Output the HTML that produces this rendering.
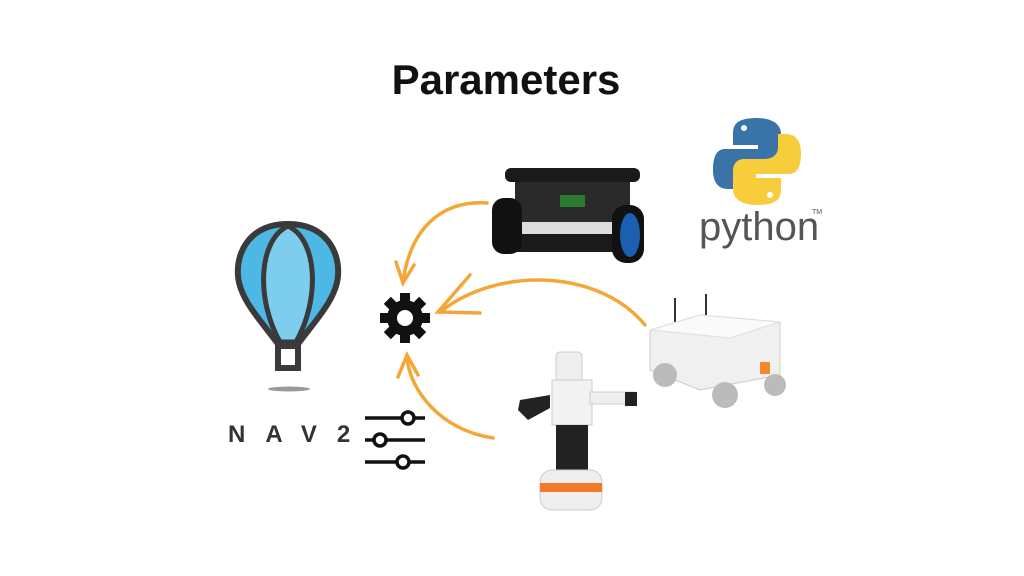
<!DOCTYPE html>
<html><head><style>
html,body{margin:0;padding:0;background:#fff;width:1024px;height:576px;overflow:hidden}
</style></head><body>
<svg width="1024" height="576" viewBox="0 0 1024 576" xmlns="http://www.w3.org/2000/svg">
<rect width="1024" height="576" fill="#fff"/>
<text x="506" y="94" text-anchor="middle" font-family="Liberation Sans, sans-serif" font-weight="bold" font-size="42" fill="#111">Parameters</text>

<!-- balloon -->
<path d="M288 224 C250 224 236 252 238 276 C240 300 262 322 278 344 L298 344 C314 322 336 300 338 276 C340 252 326 224 288 224 Z" fill="#4db8e6" stroke="#3a3a3a" stroke-width="6"/>
<path d="M288 226 C258 240 256 300 280 342 L296 342 C320 300 318 240 288 226 Z" fill="#7dcdee" stroke="#3a3a3a" stroke-width="5"/>
<rect x="278" y="346" width="20" height="22" fill="#fff" stroke="#3a3a3a" stroke-width="6"/>
<ellipse cx="289" cy="389" rx="21" ry="2.5" fill="#999"/>
<text x="228" y="442" font-family="Liberation Sans, sans-serif" font-weight="bold" font-size="24" fill="#333" letter-spacing="20">NAV2</text>

<!-- sliders -->
<g stroke="#111" stroke-width="3.5" fill="#fff">
<line x1="365" y1="418" x2="425" y2="418"/><line x1="365" y1="440" x2="425" y2="440"/><line x1="365" y1="462" x2="425" y2="462"/>
<circle cx="408" cy="418" r="6"/><circle cx="380" cy="440" r="6"/><circle cx="403" cy="462" r="6"/>
</g>

<!-- gear -->
<g transform="translate(405,318)" fill="#111">
<circle r="18"/>
<g><rect x="-5" y="-25" width="10" height="50"/><rect x="-5" y="-25" width="10" height="50" transform="rotate(45)"/><rect x="-5" y="-25" width="10" height="50" transform="rotate(90)"/><rect x="-5" y="-25" width="10" height="50" transform="rotate(135)"/></g>
<circle r="8" fill="#fff"/>
</g>

<!-- arrows -->
<g fill="none" stroke="#f5a638" stroke-width="3.5" stroke-linecap="round">
<path d="M487 203 C440 200 410 230 403 282"/>
<path d="M396 262 L403 283 L414 265"/>
<path d="M645 325 C600 270 500 265 440 312"/>
<path d="M470 275 L438 312 L480 313"/>
<path d="M493 438 C440 430 410 390 407 358"/>
<path d="M398 377 L407 355 L418 375"/>
</g>

<!-- turtlebot -->
<g>
<rect x="505" y="168" width="135" height="14" rx="6" fill="#1a1a1a"/>
<rect x="515" y="182" width="115" height="40" fill="#2a2a2a"/>
<rect x="515" y="222" width="115" height="12" fill="#ddd"/>
<rect x="505" y="234" width="135" height="18" rx="6" fill="#1a1a1a"/>
<rect x="492" y="198" width="30" height="56" rx="12" fill="#111"/>
<rect x="612" y="205" width="32" height="58" rx="14" fill="#111"/>
<ellipse cx="630" cy="235" rx="10" ry="22" fill="#1a5fb0"/>
<rect x="560" y="195" width="25" height="12" fill="#2a7a30"/>
</g>

<!-- python logo -->
<path d="M757 118 C735 118 733 126 733 134 L733 145 L758 145 L758 149 L725 149 C715 149 713 160 713 170 C713 182 718 189 728 189 L736 189 L736 176 C736 168 742 164 750 164 L770 164 C777 164 781 159 781 152 L781 134 C781 124 772 118 757 118 Z" fill="#3a73a8"/>
<path d="M757 205 C779 205 781 197 781 189 L781 178 L756 178 L756 174 L789 174 C799 174 801 163 801 153 C801 141 796 134 786 134 L778 134 L778 147 C778 155 772 159 764 159 L744 159 C737 159 733 164 733 171 L733 189 C733 199 742 205 757 205 Z" fill="#f7cd3c"/>
<circle cx="744" cy="128" r="3" fill="#fff"/><circle cx="770" cy="195" r="3" fill="#fff"/>
<text x="699" y="240" font-family="Liberation Sans, sans-serif" font-size="40" fill="#555">python</text>
<text x="812" y="214" font-family="Liberation Sans, sans-serif" font-size="7" fill="#555">TM</text>

<!-- white mobile robot -->
<g>
<line x1="675" y1="298" x2="675" y2="325" stroke="#333" stroke-width="2"/>
<line x1="706" y1="294" x2="706" y2="318" stroke="#333" stroke-width="2"/>
<path d="M650 330 L700 315 L780 322 L780 375 L700 390 L650 370 Z" fill="#f0f0f0" stroke="#ccc"/>
<path d="M650 330 L700 315 L780 322 L730 338 Z" fill="#fafafa" stroke="#ddd"/>
<rect x="760" y="362" width="10" height="12" fill="#f08a2a"/>
<circle cx="665" cy="375" r="12" fill="#bbb"/><circle cx="725" cy="395" r="13" fill="#bbb"/><circle cx="775" cy="385" r="11" fill="#bbb"/>
</g>

<!-- humanoid -->
<g>
<rect x="556" y="352" width="26" height="30" rx="4" fill="#eee" stroke="#ccc"/>
<rect x="552" y="380" width="40" height="45" fill="#f2f2f2" stroke="#ccc"/>
<path d="M520 400 L550 395 L550 408 L528 420 L518 410 Z" fill="#222"/>
<rect x="590" y="392" width="45" height="12" fill="#eee" stroke="#ccc"/>
<rect x="625" y="392" width="12" height="14" fill="#222"/>
<rect x="556" y="425" width="32" height="48" fill="#222"/>
<rect x="540" y="470" width="62" height="40" rx="12" fill="#eee" stroke="#ccc"/>
<rect x="540" y="483" width="62" height="9" fill="#f07a2a"/>
</g>
</svg>
</body></html>
